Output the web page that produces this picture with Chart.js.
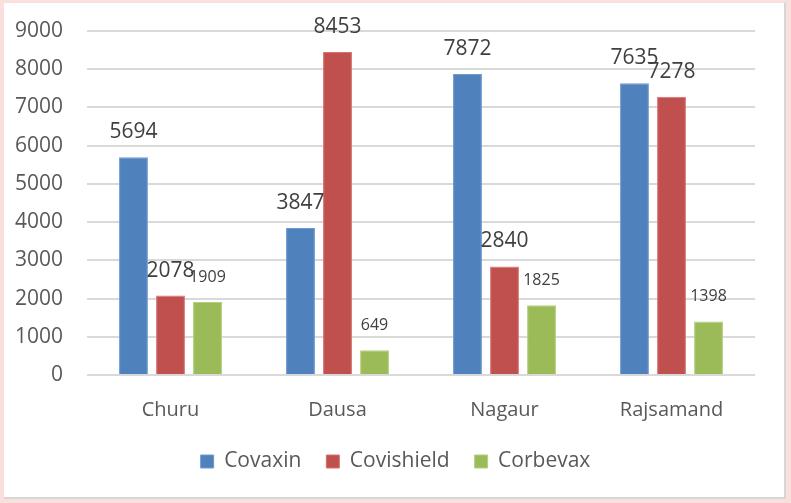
<!DOCTYPE html>
<html>
<head>
<meta charset="utf-8">
<script src="https://cdn.jsdelivr.net/npm/chart.js@4"></script>
<style>
  html, body { margin: 0; padding: 0; }
  body { width: 791px; height: 503px; background: #fae0dd; position: relative; overflow: hidden; }
  #panel { position: absolute; left: 4px; top: 3px; width: 780px; height: 494px; background: #fff;
           border-right: 2px solid #d6d6d6; border-bottom: 2px solid #d6d6d6; }
  #wrap { position: absolute; left: 0; top: 0; width: 791px; height: 503px; }
</style>
</head>
<body>
<div id="panel"></div>
<div id="wrap"><canvas id="VaccineChart" width="791" height="503"></canvas></div>
<script>
(function () {
  "use strict";

  // Data
  const districts  = ['Churu', 'Dausa', 'Nagaur', 'Rajsamand'];
  const covaxin    = [5694, 3847, 7872, 7635];
  const covishield = [2078, 8453, 2840, 7278];
  const corbevax   = [1909, 649, 1825, 1398];
  const yTicks     = [0, 1000, 2000, 3000, 4000, 5000, 6000, 7000, 8000, 9000];

  // Colors
  const blue_500  = '#4f81bd';
  const red_500   = '#c0504d';
  const green_500 = '#9bbb59';
  const text_gray = '#595959';
  const grid_gray = '#d9d9d9';

  const fontFamily = '"Open Sans", "Liberation Sans", sans-serif';

  // value labels above bars (Excel style)
  const valueLabels = {
    id: 'valueLabels',
    afterDatasetsDraw(chart) {
      const ctx = chart.ctx;
      const sizes = [21, 21, 16];
      ctx.save();
      ctx.fillStyle = '#404040';
      ctx.textAlign = 'center';
      ctx.textBaseline = 'middle';
      chart.data.datasets.forEach(function (ds, di) {
        ctx.font = sizes[di] + 'px ' + fontFamily;
        chart.getDatasetMeta(di).data.forEach(function (bar, i) {
          ctx.fillText(String(ds.data[i]), bar.x, bar.y - 25);
        });
      });
      ctx.restore();
    }
  };

  // center the legend on the whole canvas, not just the left part
  const legendCenter = {
    id: 'legendCenter',
    afterLayout(chart) {
      if (chart.legend) {
        chart.legend.right = chart.width;
        chart.legend.width = chart.width - chart.legend.left;
      }
    }
  };

  const ctv = document.getElementById('VaccineChart').getContext('2d');
  new Chart(ctv, {
    type: 'bar',
    data: {
      labels: districts,
      datasets: [{
        label: 'Covaxin',
        data: covaxin,
        backgroundColor: blue_500,
        borderColor: '#6f9bd1',
        borderWidth: 1
      },
      {
        label: 'Covishield',
        data: covishield,
        backgroundColor: red_500,
        borderColor: '#d67370',
        borderWidth: 1
      },
      {
        label: 'Corbevax',
        data: corbevax,
        backgroundColor: green_500,
        borderColor: '#b3cf7c',
        borderWidth: 1
      }]
    },
    options: {
      responsive: false,
      animation: false,
      categoryPercentage: 0.665,
      barPercentage: 0.78,
      layout: {
        padding: { left: 0, right: 36, top: 31, bottom: 21 }
      },
      plugins: {
        tooltip: { enabled: false },
        legend: {
          position: 'bottom',
          labels: {
            color: text_gray,
            font: { family: fontFamily, size: 21 },
            boxWidth: 13,
            boxHeight: 13,
            padding: 25
          }
        }
      },
      scales: {
        x: {
          afterFit: function (scale) { scale.height = 51; },
          grid: { display: false, drawTicks: false },
          border: { display: false },
          ticks: {
            color: text_gray,
            font: { family: fontFamily, size: 20 },
            padding: 23
          }
        },
        y: {
          min: 0,
          max: 9000,
          afterFit: function (scale) {
            scale.width = 87;
            scale.paddingTop = 0;
            scale.paddingBottom = 0;
          },
          afterBuildTicks: function (scale) {
            scale.ticks = yTicks.map(function (v) { return { value: v }; });
          },
          grid: { color: grid_gray, lineWidth: 2, drawTicks: false },
          border: { display: false },
          ticks: {
            color: text_gray,
            font: { family: fontFamily, size: 21 },
            padding: 24,
            callback: function (value) { return String(value); }
          }
        }
      }
    },
    plugins: [valueLabels, legendCenter]
  });
})();
</script>
</body>
</html>
